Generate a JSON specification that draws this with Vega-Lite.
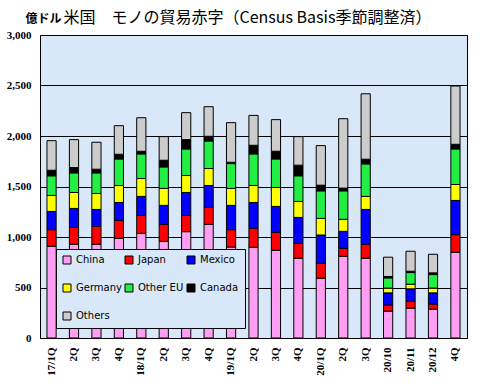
{
  "$schema": "https://vega.github.io/schema/vega-lite/v6.json",
  "width": 427,
  "height": 303,
  "autosize": {"type": "none"},
  "padding": {"left": 40, "top": 35, "right": 14, "bottom": 50},
  "background": "white",
  "title": {
    "text": "米国　モノの貿易赤字（Census Basis季節調整済）",
    "font": "Noto Sans CJK JP",
    "fontSize": 16,
    "fontWeight": "normal",
    "color": "black",
    "anchor": "middle",
    "dx": -6,
    "dy": 24,
    "offset": 10
  },
  "data": {
    "values": [
      {"q": "17/1Q", "China": 908, "Japan": 165, "Mexico": 180, "Germany": 158, "Other EU": 195, "Canada": 55, "Others": 293},
      {"q": "17/2Q", "China": 928, "Japan": 168, "Mexico": 187, "Germany": 158, "Other EU": 194, "Canada": 53, "Others": 276},
      {"q": "17/3Q", "China": 928, "Japan": 177, "Mexico": 168, "Germany": 158, "Other EU": 204, "Canada": 36, "Others": 267},
      {"q": "17/4Q", "China": 987, "Japan": 178, "Mexico": 177, "Germany": 168, "Other EU": 263, "Canada": 46, "Others": 283},
      {"q": "18/1Q", "China": 1036, "Japan": 178, "Mexico": 188, "Germany": 177, "Other EU": 244, "Canada": 26, "Others": 332},
      {"q": "18/2Q", "China": 957, "Japan": 168, "Mexico": 188, "Germany": 168, "Other EU": 213, "Canada": 66, "Others": 234},
      {"q": "18/3Q", "China": 1053, "Japan": 161, "Mexico": 227, "Germany": 168, "Other EU": 263, "Canada": 92, "Others": 267},
      {"q": "18/4Q", "China": 1125, "Japan": 168, "Mexico": 217, "Germany": 168, "Other EU": 273, "Canada": 46, "Others": 293},
      {"q": "19/1Q", "China": 901, "Japan": 172, "Mexico": 240, "Germany": 168, "Other EU": 246, "Canada": 13, "Others": 392},
      {"q": "19/2Q", "China": 898, "Japan": 188, "Mexico": 256, "Germany": 168, "Other EU": 313, "Canada": 85, "Others": 296},
      {"q": "19/3Q", "China": 869, "Japan": 177, "Mexico": 257, "Germany": 187, "Other EU": 283, "Canada": 76, "Others": 313},
      {"q": "19/4Q", "China": 790, "Japan": 148, "Mexico": 256, "Germany": 158, "Other EU": 254, "Canada": 105, "Others": 283},
      {"q": "20/1Q", "China": 592, "Japan": 148, "Mexico": 280, "Germany": 164, "Other EU": 273, "Canada": 56, "Others": 392},
      {"q": "20/2Q", "China": 809, "Japan": 79, "Mexico": 168, "Germany": 119, "Other EU": 282, "Canada": 27, "Others": 687},
      {"q": "20/3Q", "China": 790, "Japan": 138, "Mexico": 345, "Germany": 129, "Other EU": 322, "Canada": 46, "Others": 648},
      {"q": "20/10", "China": 266, "Japan": 60, "Mexico": 121, "Germany": 47, "Other EU": 101, "Canada": 14, "Others": 191},
      {"q": "20/11", "China": 296, "Japan": 69, "Mexico": 122, "Germany": 46, "Other EU": 115, "Canada": 13, "Others": 198},
      {"q": "20/12", "China": 286, "Japan": 50, "Mexico": 111, "Germany": 47, "Other EU": 134, "Canada": 17, "Others": 184},
      {"q": "20/4Q", "China": 849, "Japan": 174, "Mexico": 339, "Germany": 158, "Other EU": 352, "Canada": 46, "Others": 577}
    ]
  },
  "transform": [
    {"fold": ["China", "Japan", "Mexico", "Germany", "Other EU", "Canada", "Others"], "as": ["country", "value"]},
    {
      "lookup": "country",
      "from": {
        "data": {
          "values": [
            {"country": "China", "rank": 1},
            {"country": "Japan", "rank": 2},
            {"country": "Mexico", "rank": 3},
            {"country": "Germany", "rank": 4},
            {"country": "Other EU", "rank": 5},
            {"country": "Canada", "rank": 6},
            {"country": "Others", "rank": 7}
          ]
        },
        "key": "country",
        "fields": ["rank"]
      }
    }
  ],
  "mark": {"type": "bar", "stroke": "black", "strokeWidth": 1},
  "encoding": {
    "x": {
      "field": "q",
      "type": "nominal",
      "sort": null,
      "scale": {"paddingInner": 0.59, "paddingOuter": 0.31},
      "axis": {
        "title": null,
        "labelAngle": -90,
        "labelAlign": "right",
        "labelBaseline": "middle",
        "labelFont": "Liberation Serif",
        "labelFontWeight": "bold",
        "labelFontSize": 11,
        "labelColor": "black",
        "labelPadding": 9,
        "ticks": false,
        "domain": false,
        "labelExpr": "test(/1Q$|\\/1\\d$/, datum.value) ? datum.value : split(datum.value, '/')[1]"
      }
    },
    "y": {
      "field": "value",
      "type": "quantitative",
      "stack": "zero",
      "scale": {"domain": [0, 3000], "nice": false},
      "axis": {
        "title": "億ドル",
        "titleAngle": 0,
        "titleX": 3,
        "titleY": -17,
        "titleAlign": "center",
        "titleBaseline": "middle",
        "titleFont": "Noto Sans CJK JP",
        "titleFontSize": 12,
        "titleFontWeight": "bold",
        "titleColor": "black",
        "values": [0, 500, 1000, 1500, 2000, 2500, 3000],
        "format": ",.0f",
        "labelFont": "Liberation Serif",
        "labelFontWeight": "bold",
        "labelFontSize": 11,
        "labelColor": "black",
        "labelPadding": 9,
        "ticks": false,
        "domain": false,
        "grid": true,
        "gridColor": "black",
        "gridOpacity": 1,
        "gridWidth": 1
      }
    },
    "color": {
      "field": "country",
      "type": "nominal",
      "sort": ["China", "Japan", "Mexico", "Germany", "Other EU", "Canada", "Others"],
      "scale": {
        "domain": ["China", "Japan", "Mexico", "Germany", "Other EU", "Canada", "Others"],
        "range": ["#FF9EF2", "#FF0000", "#0000FF", "#FFFF00", "#22EE44", "#000000", "#CCCCCC"]
      },
      "legend": {
        "title": null,
        "orient": "none",
        "legendX": 16,
        "legendY": 214,
        "direction": "horizontal",
        "columns": 3,
        "gridAlign": "all",
        "fillColor": "#D8E8F8",
        "strokeColor": "black",
        "padding": 6,
        "labelFont": "DejaVu Sans",
        "labelFontSize": 10,
        "labelColor": "black",
        "symbolType": "square",
        "symbolSize": 64,
        "symbolStrokeColor": "black",
        "symbolStrokeWidth": 1,
        "symbolOpacity": 1,
        "labelOffset": 4,
        "rowPadding": 16,
        "columnPadding": 1
      }
    },
    "order": {"field": "rank", "sort": "ascending"}
  },
  "config": {
    "view": {"fill": "#D8E8F8", "stroke": "black", "strokeWidth": 1}
  }
}
